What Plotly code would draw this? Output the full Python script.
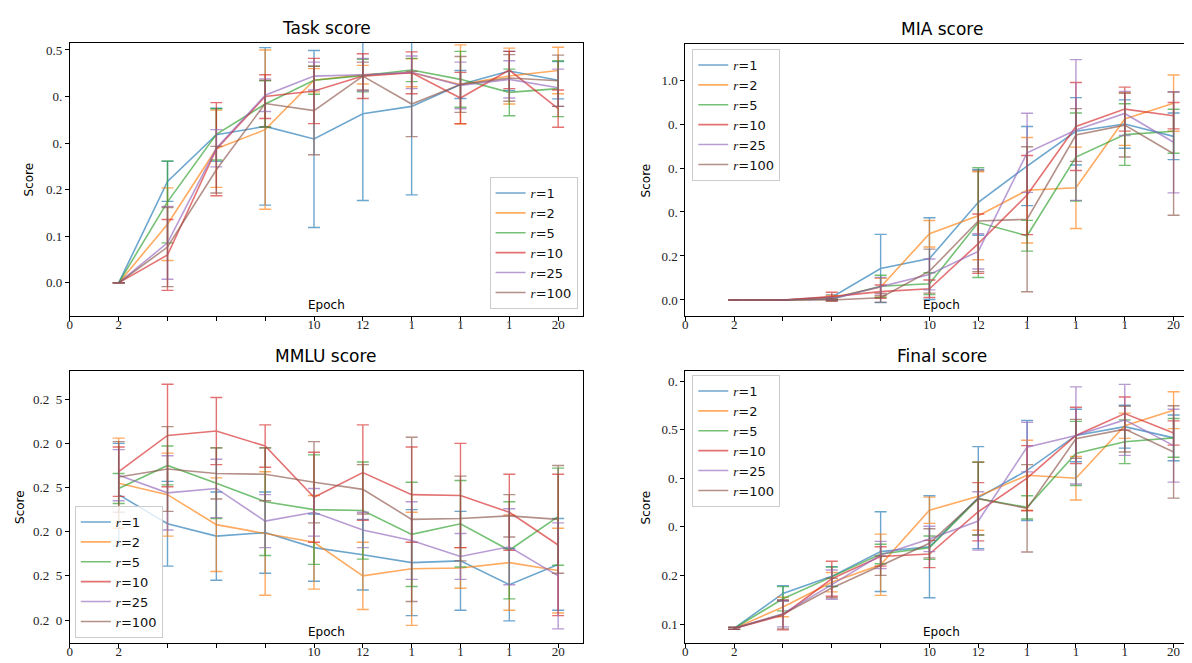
import plotly.graph_objects as go

epochs = [2, 4, 6, 8, 10, 12, 14, 16, 18, 20]
ranks = ["1", "2", "5", "10", "25", "100"]
colors = ["#1f77b4", "#ff7f0e", "#2ca02c", "#d62728", "#9467bd", "#8c564b"]
x_tickvals = [0, 2, 4, 6, 8, 10, 12, 14, 16, 18, 20]
x_ticktext = ["0", "2", "", "", "", "10", "12", "1", "1", "1", "20"]

task_means = [
    [0, 0.218, 0.318, 0.336, 0.309, 0.363, 0.379, 0.426, 0.455, 0.435],
    [0, 0.126, 0.288, 0.329, 0.435, 0.447, 0.451, 0.426, 0.444, 0.456],
    [0, 0.174, 0.319, 0.384, 0.435, 0.445, 0.457, 0.437, 0.409, 0.417],
    [0, 0.060, 0.287, 0.400, 0.412, 0.444, 0.451, 0.397, 0.457, 0.374],
    [0, 0.086, 0.289, 0.403, 0.444, 0.447, 0.452, 0.424, 0.437, 0.419],
    [0, 0.077, 0.243, 0.385, 0.370, 0.444, 0.384, 0.426, 0.440, 0.434],
]
task_errs = [
    [0, 0.043, 0.057, 0.169, 0.190, 0.186, 0.190, 0.030, 0.042, 0.040],
    [0, 0.078, 0.083, 0.171, 0.025, 0.020, 0.030, 0.085, 0.060, 0.050],
    [0, 0.088, 0.055, 0.050, 0.030, 0.035, 0.025, 0.060, 0.050, 0.060],
    [0, 0.076, 0.100, 0.047, 0.070, 0.048, 0.045, 0.055, 0.040, 0.040],
    [0, 0.078, 0.040, 0.035, 0.030, 0.035, 0.035, 0.050, 0.040, 0.040],
    [0, 0.085, 0.050, 0.050, 0.095, 0.030, 0.070, 0.060, 0.050, 0.055],
]
task_yticks = [0, 0.1, 0.2, 0.3, 0.4, 0.5]
task_yticktext = ["0.0", "0.1", "0.2", "0.", "0.", "0.5"]

mia_means = [
    [0, 0, 0.013, 0.143, 0.188, 0.444, 0.609, 0.767, 0.800, 0.744],
    [0, 0, 0.010, 0.059, 0.301, 0.383, 0.499, 0.510, 0.823, 0.895],
    [0, 0, 0.005, 0.062, 0.074, 0.352, 0.292, 0.650, 0.752, 0.767],
    [0, 0, 0.015, 0.038, 0.051, 0.256, 0.477, 0.789, 0.868, 0.838],
    [0, 0, 0.005, 0.062, 0.116, 0.221, 0.669, 0.773, 0.848, 0.717],
    [0, 0, 0.000, 0.010, 0.131, 0.359, 0.367, 0.750, 0.795, 0.665],
]
mia_errs = [
    [0, 0, 0.010, 0.155, 0.186, 0.150, 0.180, 0.153, 0.110, 0.106],
    [0, 0, 0.010, 0.040, 0.060, 0.200, 0.240, 0.185, 0.120, 0.128],
    [0, 0, 0.005, 0.050, 0.050, 0.250, 0.070, 0.200, 0.140, 0.100],
    [0, 0, 0.020, 0.030, 0.040, 0.135, 0.180, 0.200, 0.100, 0.060],
    [0, 0, 0.005, 0.040, 0.070, 0.080, 0.180, 0.320, 0.100, 0.230],
    [0, 0, 0.005, 0.020, 0.100, 0.230, 0.330, 0.120, 0.145, 0.280],
]
mia_yticks = [0, 0.2, 0.4, 0.6, 0.8, 1.0]
mia_yticktext = ["0.0", "0.2", "0.", "0.", "0.", "1.0"]

mmlu_means = [
    [0.2442, 0.2409, 0.2395, 0.2399, 0.2382, 0.2374, 0.2365, 0.2367, 0.2340, 0.2363],
    [0.2455, 0.2442, 0.2408, 0.2398, 0.2388, 0.2350, 0.2358, 0.2359, 0.2365, 0.2356],
    [0.2449, 0.2475, 0.2455, 0.2434, 0.2425, 0.2424, 0.2397, 0.2409, 0.2379, 0.2417],
    [0.2468, 0.2509, 0.2514, 0.2497, 0.2439, 0.2467, 0.2442, 0.2441, 0.2422, 0.2385],
    [0.2464, 0.2444, 0.2449, 0.2412, 0.2422, 0.2402, 0.2390, 0.2372, 0.2383, 0.2350],
    [0.2462, 0.2471, 0.2466, 0.2465, 0.2456, 0.2448, 0.2414, 0.2415, 0.2418, 0.2414],
]
mmlu_errs = [
    [0.0058, 0.0048, 0.0050, 0.0046, 0.0038, 0.0040, 0.0060, 0.0056, 0.0041, 0.0052],
    [0.0051, 0.0047, 0.0053, 0.0070, 0.0053, 0.0038, 0.0064, 0.0023, 0.0054, 0.0048],
    [0.0017, 0.0022, 0.0040, 0.0061, 0.0062, 0.0055, 0.0059, 0.0049, 0.0055, 0.0055],
    [0.0028, 0.0058, 0.0038, 0.0024, 0.0051, 0.0054, 0.0054, 0.0059, 0.0043, 0.0080],
    [0.0029, 0.0042, 0.0033, 0.0030, 0.0027, 0.0020, 0.0044, 0.0026, 0.0043, 0.0060],
    [0.0040, 0.0048, 0.0029, 0.0030, 0.0046, 0.0028, 0.0093, 0.0048, 0.0024, 0.0061],
]
mmlu_yticks = [0.230, 0.235, 0.240, 0.245, 0.250, 0.255]
mmlu_yticktext = ["0.2\u00a0\u00a00", "0.2\u00a0\u00a05", "0.2\u00a0\u00a00",
                  "0.2\u00a0\u00a05", "0.2\u00a0\u00a00", "0.2\u00a0\u00a05"]

final_means = [
    [0.091, 0.163, 0.198, 0.249, 0.259, 0.360, 0.416, 0.488, 0.506, 0.483],
    [0.091, 0.135, 0.186, 0.222, 0.334, 0.363, 0.406, 0.400, 0.508, 0.540],
    [0.091, 0.152, 0.197, 0.244, 0.257, 0.358, 0.340, 0.451, 0.475, 0.483],
    [0.091, 0.118, 0.193, 0.239, 0.244, 0.331, 0.400, 0.488, 0.533, 0.493],
    [0.091, 0.121, 0.181, 0.242, 0.275, 0.312, 0.464, 0.488, 0.520, 0.467],
    [0.091, 0.120, 0.174, 0.220, 0.266, 0.358, 0.338, 0.481, 0.501, 0.454],
]
final_errs = [
    [0.002, 0.016, 0.020, 0.082, 0.105, 0.105, 0.103, 0.054, 0.044, 0.047],
    [0.002, 0.020, 0.020, 0.063, 0.027, 0.070, 0.072, 0.045, 0.026, 0.038],
    [0.002, 0.025, 0.020, 0.020, 0.024, 0.075, 0.024, 0.066, 0.045, 0.040],
    [0.002, 0.030, 0.036, 0.020, 0.028, 0.060, 0.067, 0.058, 0.034, 0.025],
    [0.002, 0.027, 0.030, 0.028, 0.026, 0.060, 0.051, 0.100, 0.073, 0.075],
    [0.002, 0.030, 0.020, 0.020, 0.030, 0.075, 0.090, 0.040, 0.047, 0.095],
]
final_yticks = [0.1, 0.2, 0.3, 0.4, 0.5, 0.6]
final_yticktext = ["0.1", "0.2", "0.", "0.", "0.5", "0."]

W, H = 1192, 663
SERIF = "Liberation Serif, Times New Roman, serif"
SANS = "DejaVu Sans, Arial, sans-serif"

panels = [
    dict(title="Task score", means=task_means, errs=task_errs, yt=task_yticks, ytt=task_yticktext,
         yr=[-0.071, 0.515], box=(59, 573, 35, 308),
         leg=dict(x=568 / W, y=1 - 301 / H, xanchor="right", yanchor="bottom"), score_x=19),
    dict(title="MIA score", means=mia_means, errs=mia_errs, yt=mia_yticks, ytt=mia_yticktext,
         yr=[-0.073, 1.164], box=(676, 1190, 36, 308),
         leg=dict(x=683 / W, y=1 - 41 / H, xanchor="left", yanchor="top"), score_x=637),
    dict(title="MMLU score", means=mmlu_means, errs=mmlu_errs, yt=mmlu_yticks, ytt=mmlu_yticktext,
         yr=[0.2274, 0.2582], box=(59, 573, 363, 635),
         leg=dict(x=64 / W, y=1 - 630 / H, xanchor="left", yanchor="bottom"), score_x=9),
    dict(title="Final score", means=final_means, errs=final_errs, yt=final_yticks, ytt=final_yticktext,
         yr=[0.0609, 0.6206], box=(676, 1190, 363, 635),
         leg=dict(x=683 / W, y=1 - 367 / H, xanchor="left", yanchor="top"), score_x=637),
]

fig = go.Figure()
annotations = []
layout = {}
for k, p in enumerate(panels, start=1):
    sfx = "" if k == 1 else str(k)
    legname = "legend" if k == 1 else f"legend{k}"
    for i, r in enumerate(ranks):
        name = f'<span style="font-family:Liberation Serif;font-style:italic">r</span>={r}'
        fig.add_trace(go.Scatter(
            x=epochs, y=p["means"][i], mode="lines", name=name,
            line=dict(color=colors[i], width=1.6),
            opacity=0.65,
            error_y=dict(type="data", array=p["errs"][i], color=colors[i], thickness=1.4, width=6),
            xaxis="x" + sfx, yaxis="y" + sfx, legend=legname,
        ))
    x0, x1, y0, y1 = p["box"]
    axis_common = dict(showline=True, linecolor="black", linewidth=1, mirror=True,
                       ticks="outside", ticklen=4, tickcolor="black", tickwidth=1,
                       showgrid=False, zeroline=False,
                       tickfont=dict(family=SERIF, size=13, color="#222"))
    layout["xaxis" + sfx] = dict(domain=[x0 / W, x1 / W], range=[0, 21], anchor="y" + sfx,
                                 tickmode="array", tickvals=x_tickvals, ticktext=x_ticktext,
                                 ticklabelstandoff=-8, **axis_common)
    layout["yaxis" + sfx] = dict(domain=[1 - y1 / H, 1 - y0 / H], range=p["yr"], anchor="x" + sfx,
                                 tickmode="array", tickvals=p["yt"], ticktext=p["ytt"],
                                 **axis_common)
    layout[legname] = dict(**p["leg"], bgcolor="rgba(255,255,255,0.8)", bordercolor="#cccccc",
                           borderwidth=1, font=dict(family=SANS, size=13, color="#111"),
                           tracegroupgap=0, itemwidth=30)
    cx = (x0 + x1) / 2
    annotations.append(dict(text=p["title"], x=cx / W, y=1 - (y0 - 15) / H, xref="paper", yref="paper",
                            showarrow=False, xanchor="center", yanchor="middle",
                            font=dict(family=SANS, size=17, color="black")))
    annotations.append(dict(text="Epoch", x=cx / W, y=1 - (y1 - 11) / H, xref="paper", yref="paper",
                            showarrow=False, xanchor="center", yanchor="middle",
                            font=dict(family=SANS, size=12, color="black")))
    annotations.append(dict(text="Score", x=p["score_x"] / W, y=1 - ((y0 + y1) / 2) / H,
                            xref="paper", yref="paper", showarrow=False, textangle=-90,
                            xanchor="center", yanchor="middle",
                            font=dict(family=SANS, size=12, color="black")))

fig.update_layout(**layout)
fig.update_layout(width=W, height=H, margin=dict(l=0, r=0, t=0, b=0),
                  paper_bgcolor="white", plot_bgcolor="white",
                  showlegend=True, annotations=annotations)
fig.write_html("out.html")
